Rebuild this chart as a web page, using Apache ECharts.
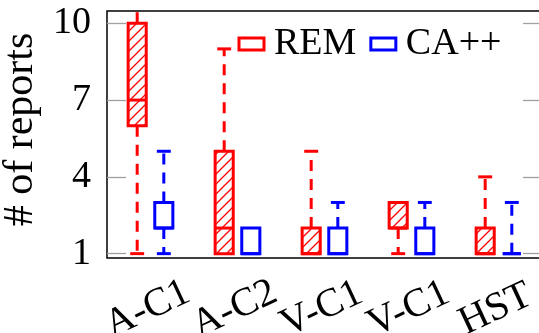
<!DOCTYPE html>
<html>
<head>
<meta charset="utf-8">
<script src="https://cdn.jsdelivr.net/npm/echarts@6/dist/echarts.min.js"></script>
<style>
  html, body { margin: 0; padding: 0; background: #fff; }
  #chart { width: 539px; height: 333px; }
</style>
</head>
<body>
<div id="chart"></div>
<script>
// Report counts per component, as box statistics: [min, q1, median, q3, max]
const categories = ['A-C1', 'A-C2', 'V-C1', 'V-C1', 'HST'];
const remStats = [
  [1, 6, 7, 10, 11],
  [1, 1, 2, 5, 9],
  [1, 1, 1, 2, 5],
  [1, 2, 2, 3, 3],
  [1, 1, 1, 2, 4]
];
const caStats = [
  [1, 2, 2, 3, 5],
  [1, 1, 1, 2, 2],
  [1, 1, 1, 2, 3],
  [1, 1, 1, 2, 3],
  [1, 1, 1, 1, 3]
];
const yTicks = [1, 4, 7, 10];

const FONT = '"Liberation Serif", "Times New Roman", serif';
const RED = '#ff0000';
const BLUE = '#0000ff';

// "north east lines" hatch tile
function hatchTile(color) {
  const c = document.createElement('canvas');
  c.width = 10; c.height = 10;
  const g = c.getContext('2d');
  g.strokeStyle = color;
  g.lineWidth = 1.3;
  g.beginPath();
  g.moveTo(-2, 12); g.lineTo(12, -2);
  g.moveTo(-2, 2); g.lineTo(2, -2);
  g.moveTo(8, 12); g.lineTo(12, 8);
  g.stroke();
  return c;
}

function boxRenderer(side, color, fill) {
  return function (params, api) {
    const i = api.value(0);
    const lo = api.value(1), q1 = api.value(2), med = api.value(3),
          q3 = api.value(4), hi = api.value(5);
    const band = api.size([1, 0])[0];
    const cx = api.coord([i, 0])[0] + side * band * 0.153;
    const py = v => api.coord([i, v])[1];
    const half = band * 0.104;
    const cap = band * 0.08;
    const dashed = { stroke: color, lineWidth: 3, lineDash: [11, 8], fill: null };
    const solid = { stroke: color, lineWidth: 3, fill: null };
    const kids = [];
    if (hi > q3) {
      kids.push({ type: 'line', shape: { x1: cx, y1: py(q3), x2: cx, y2: py(hi) }, style: dashed });
      kids.push({ type: 'line', shape: { x1: cx - cap, y1: py(hi), x2: cx + cap, y2: py(hi) }, style: solid });
    }
    if (lo < q1) {
      kids.push({ type: 'line', shape: { x1: cx, y1: py(q1), x2: cx, y2: py(lo) }, style: dashed });
      kids.push({ type: 'line', shape: { x1: cx - cap, y1: py(lo), x2: cx + cap, y2: py(lo) }, style: solid });
    }
    kids.push({
      type: 'rect',
      shape: { x: cx - half, y: py(q3), width: 2 * half, height: py(q1) - py(q3) },
      style: { fill: fill, stroke: color, lineWidth: 3 }
    });
    kids.push({ type: 'line', shape: { x1: cx - half, y1: py(med), x2: cx + half, y2: py(med) }, style: solid });
    return { type: 'group', children: kids };
  };
}

const chart = echarts.init(document.getElementById('chart'), null, { renderer: 'canvas' });

const yCommon = {
  type: 'value',
  min: 0.83,
  max: 10.48,
  splitLine: { show: false },
  axisLine: { show: false },
  axisTick: {
    show: true, inside: true, length: 19, customValues: yTicks,
    lineStyle: { color: '#a0a0a0', width: 1.3 }
  }
};

chart.setOption({
  animation: false,
  backgroundColor: '#fff',
  grid: {
    left: 107, top: 11, width: 435, height: 247,
    show: true, borderColor: '#000', borderWidth: 1.5, backgroundColor: 'transparent',
    containLabel: false, outerBoundsMode: 'none'
  },
  legend: {
    left: 237.5, top: 25, padding: 0,
    itemWidth: 25, itemHeight: 12, itemGap: 13,
    icon: 'rect',
    textStyle: { fontFamily: FONT, fontSize: 38, color: '#000', padding: [0, 0, 8, 5] },
    data: [
      { name: 'REM', itemStyle: { color: '#fff', borderColor: RED, borderWidth: 3 } },
      { name: 'CA++', itemStyle: { color: '#fff', borderColor: BLUE, borderWidth: 3 } }
    ]
  },
  xAxis: {
    type: 'category',
    data: categories,
    boundaryGap: true,
    axisLine: { show: false },
    axisTick: { show: false },
    splitLine: { show: false },
    axisLabel: {
      interval: 0, rotate: 25, margin: 50,
      align: 'center', verticalAlign: 'middle',
      padding: [0, 6, 0, 0],
      fontFamily: FONT, fontSize: 40, color: '#000'
    }
  },
  yAxis: [
    Object.assign({}, yCommon, {
      position: 'left',
      name: '# of reports',
      nameLocation: 'middle',
      nameRotate: 90,
      nameGap: 57,
      nameTextStyle: { fontFamily: FONT, fontSize: 42, color: '#000', padding: [0, 0, 0, 10] },
      axisLabel: {
        show: true, margin: 16, customValues: yTicks,
        fontFamily: FONT, fontSize: 38, color: '#000'
      }
    }),
    Object.assign({}, yCommon, {
      position: 'right',
      axisLabel: { show: false }
    })
  ],
  series: [
    {
      name: 'REM',
      type: 'custom',
      clip: true,
      itemStyle: { color: RED },
      encode: { x: 0, y: [1, 2, 3, 4, 5] },
      renderItem: boxRenderer(-1, RED, { image: hatchTile(RED), repeat: 'repeat' }),
      data: remStats.map((s, i) => [i].concat(s))
    },
    {
      name: 'CA++',
      type: 'custom',
      clip: true,
      itemStyle: { color: BLUE },
      encode: { x: 0, y: [1, 2, 3, 4, 5] },
      renderItem: boxRenderer(1, BLUE, '#fff'),
      data: caStats.map((s, i) => [i].concat(s))
    }
  ]
});
</script>
</body>
</html>
